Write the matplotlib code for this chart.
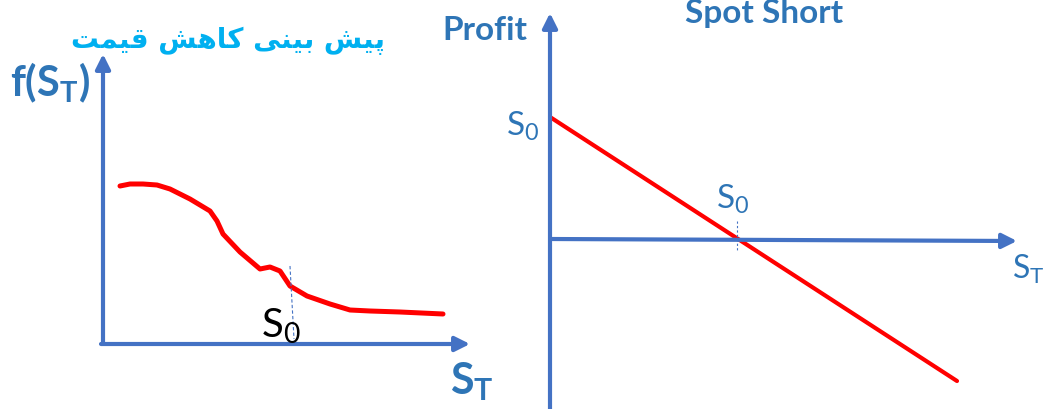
import matplotlib.pyplot as plt

plt.rcParams['mathtext.fontset'] = 'custom'
plt.rcParams['mathtext.rm'] = 'Lato'
plt.rcParams['mathtext.bf'] = 'Lato:bold'

AXIS = '#4472C4'
TEXT = '#2E75B6'
TITLE_FA = '#00B0F0'

# left panel: expected distribution of S_T (units = offset from origin)
curve_st = [17, 27, 40, 54, 67, 87, 107, 114, 120, 137, 157, 167, 177, 187, 204, 227, 247, 267, 297, 340]
curve_f = [158, 160, 160, 159, 155, 145, 133, 123, 110, 92, 75, 77, 73, 58, 48, 40, 34, 33, 32, 30]
s0_left = 187

# right panel: spot short payoff
short_st = [0, 407]
short_profit = [122, -142]
s0_right = 187

title_fa = 'پیش بینی کاهش قیمت'

# Persian shaping (matplotlib has no complex text layout)
FORMS = {  # isolated, final, initial, medial
    'پ': ('\uFB56', '\uFB57', '\uFB58', '\uFB59'),
    'ی': ('\uFBFC', '\uFBFD', '\uFBFE', '\uFBFF'),
    'ش': ('\uFEB5', '\uFEB6', '\uFEB7', '\uFEB8'),
    'ب': ('\uFE8F', '\uFE90', '\uFE91', '\uFE92'),
    'ن': ('\uFEE5', '\uFEE6', '\uFEE7', '\uFEE8'),
    'ک': ('\uFB8E', '\uFB8F', '\uFB90', '\uFB91'),
    'ا': ('\uFE8D', '\uFE8E', None, None),
    'ه': ('\uFEE9', '\uFEEA', '\uFEEB', '\uFEEC'),
    'ق': ('\uFED5', '\uFED6', '\uFED7', '\uFED8'),
    'م': ('\uFEE1', '\uFEE2', '\uFEE3', '\uFEE4'),
    'ت': ('\uFE95', '\uFE96', '\uFE97', '\uFE98'),
}


def shape(s):
    out = []
    for i, ch in enumerate(s):
        if ch not in FORMS:
            out.append(ch)
            continue
        prev = s[i - 1] if i > 0 else ' '
        nxt = s[i + 1] if i < len(s) - 1 else ' '
        dual = FORMS[ch][2] is not None
        jp = prev in FORMS and FORMS[prev][2] is not None
        jn = dual and nxt in FORMS
        idx = 3 if (jp and jn) else 1 if jp else 2 if jn else 0
        out.append(FORMS[ch][idx])
    return ''.join(out[::-1])


W, H = 1043, 410
fig = plt.figure(figsize=(W / 100, H / 100), dpi=100)

# left panel covers pixels 0..521, origin at (103, 345)
ax1 = fig.add_axes([0, 0, 521 / W, 1])
ax1.set_xlim(-103, 418)
ax1.set_ylim(-65, 345)
ax1.axis('off')

arrow = dict(arrowstyle='-|>', lw=3, color=AXIS, mutation_scale=22, shrinkA=0, shrinkB=0)
ax1.annotate('', xy=(0, 290), xytext=(0, 0), arrowprops=arrow)
ax1.annotate('', xy=(367, 0), xytext=(-2, 0), arrowprops=arrow)
ax1.plot(curve_st, curve_f, color='red', lw=3.6, solid_capstyle='round', solid_joinstyle='round')
ax1.plot([s0_left, s0_left + 4], [78, 5], color=AXIS, lw=0.8, ls=(0, (3, 2)))
ax1.text(158, -2, r'$\mathrm{S_0}$', fontsize=29, color='black', ha='left', va='bottom')
ax1.text(347, -15, r'$\mathbf{S_T}$', fontsize=31, color=TEXT, ha='left', va='top')
ax1.text(-93, 262, r'$\mathbf{f(S_T)}$', fontsize=30, color=TEXT, ha='left', va='center')
ax1.text(125, 304, shape(title_fa), fontsize=20, fontweight='bold', color=TITLE_FA,
         family=['DejaVu Sans'], ha='center', va='center')

# right panel covers pixels 521..1043, origin at (550, 240)
ax2 = fig.add_axes([521 / W, 0, 522 / W, 1])
ax2.set_xlim(-29, 493)
ax2.set_ylim(-170, 240)
ax2.axis('off')

ax2.annotate('', xy=(0, 226), xytext=(0, -175), arrowprops=arrow)
ax2.annotate('', xy=(467, -2), xytext=(0, 0), arrowprops=arrow)
ax2.plot(short_st, short_profit, color='red', lw=3, solid_capstyle='round')
ax2.plot([s0_right, s0_right], [18, -12], color=AXIS, lw=0.8, ls=(0, (2, 2)))
ax2.text(-11, 114, r'$\mathrm{S_0}$', fontsize=24, color=TEXT, ha='right', va='center')
ax2.text(s0_right - 4, 24, r'$\mathrm{S_0}$', fontsize=24, color=TEXT, ha='center', va='bottom')
ax2.text(462, -13, r'$\mathrm{S_T}$', fontsize=23, color=TEXT, ha='left', va='top')
ax2.text(-23, 210, 'Profit', fontsize=24, fontweight='bold', color=TEXT, family='Lato',
         ha='right', va='center')
ax2.text(214, 226, 'Spot Short', fontsize=24, fontweight='bold', color=TEXT, family='Lato',
         ha='center', va='center')

fig.savefig('out.png', dpi=100)
